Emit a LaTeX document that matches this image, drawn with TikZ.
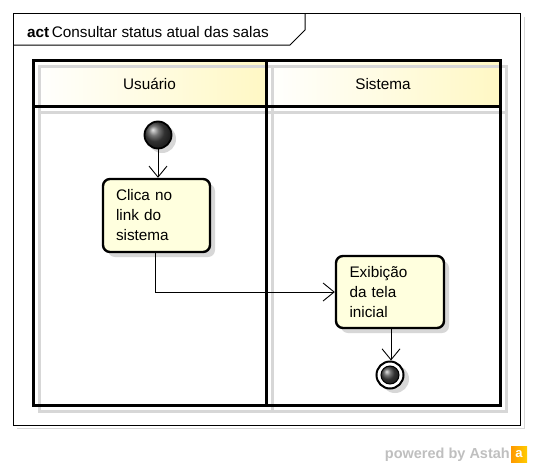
\documentclass[tikz,border=0pt]{standalone}
\usepackage{fontspec}
\setmainfont{Liberation Sans}
\usetikzlibrary{arrows.meta,shadows}
\definecolor{hdryel}{RGB}{255,248,196}
\definecolor{actyel}{RGB}{255,255,222}
\definecolor{shgray}{RGB}{215,215,215}
\tikzset{
  lanehdr/.style={draw=none, left color=white, right color=hdryel},
  actbox/.style={draw=black, line width=2.4pt, rounded corners=7pt, fill=actyel,
    minimum width=107pt, minimum height=73pt, text width=81pt, inner xsep=13pt,
    align=left, font=\fontsize{15.3}{20}\selectfont,
    drop shadow={shadow xshift=5pt, shadow yshift=-5pt, fill=shgray, opacity=1}},
  flow/.style={line width=0.9pt, -{Straight Barb[length=11pt,width=18pt,line width=0.9pt]}},
  lanetxt/.style={font=\fontsize{15.3}{18}\selectfont},
}
\begin{document}
\begin{tikzpicture}[x=1pt,y=-1pt]
\useasboundingbox (0,0) rectangle (533,466);
% frame
\draw[shgray, line width=1pt] (17,428.5) -- (524.5,428.5) -- (524.5,17);
\draw[black, line width=1pt, fill=white] (13,13) rectangle (520,425);
\draw[black, line width=1pt] (13,45) -- (290,45) -- (305,30) -- (305,13);
\node[anchor=base west, inner sep=0, font=\fontsize{15.3}{18}\selectfont] (title) at (27,37) {\textbf{act}\,Consultar status atual das salas};
% lane headers
\fill[lanehdr] (33,60) rectangle (266,106);
\fill[lanehdr] (266,60) rectangle (500,106);
% lane shadow
\draw[shgray, line width=3pt] (39,66) rectangle (506,411);
\draw[shgray, line width=3pt] (39,112) -- (506,112);
\draw[shgray, line width=3pt] (272,66) -- (272,411);
% lanes
\draw[black, line width=3pt] (33,60) rectangle (500,405);
\draw[black, line width=3pt] (33,106) -- (500,106);
\draw[black, line width=3pt] (266,60) -- (266,405);
\node[lanetxt] (usr) at (149.5,84) {Usuário};
\node[lanetxt] (sys) at (383,84) {Sistema};
% initial node
\fill[shgray] (162,139) circle (14pt);
\node[circle, draw=black, line width=1.8pt, minimum size=27pt, inner sep=0, shading=ball, ball color=gray!55!black] (init) at (158,135) {};
% actions
\node[actbox] (a1) at (156.5,215.5) {Clica no\\link do\\sistema};
\node[actbox, minimum width=108pt, minimum height=72pt] (a2) at (390,292) {Exibição\\da tela\\inicial};
% final node
\fill[shgray] (395,379) circle (14pt);
\node[circle, draw=black, line width=2pt, fill=white, minimum size=27pt, inner sep=0] (fin) at (390,375) {};
\node[circle, draw=black, line width=1pt, minimum size=18pt, inner sep=0, shading=ball, ball color=gray!55!black] (finin) at (fin) {};
% flows
\draw[flow] (init.south) -- (init.south |- a1.north);
\draw[flow] ([xshift=-1.5pt]a1.south) |- (a2.west);
\draw[flow] ([xshift=1pt]a2.south) -- ([xshift=1pt]a2.south |- fin.north);
% branding
\node[anchor=base east, inner sep=0, text=gray!50, font=\bfseries\fontsize{14.5}{16}\selectfont] (brand) at (510,458) {powered by Astah};
\shade[left color=orange!80!yellow, right color=yellow!60!orange] (511,446) rectangle (527,462);
\node[inner sep=0, text=white, font=\bfseries\fontsize{13}{14}\selectfont] (brandico) at (519,454) {a};
\end{tikzpicture}
\end{document}
